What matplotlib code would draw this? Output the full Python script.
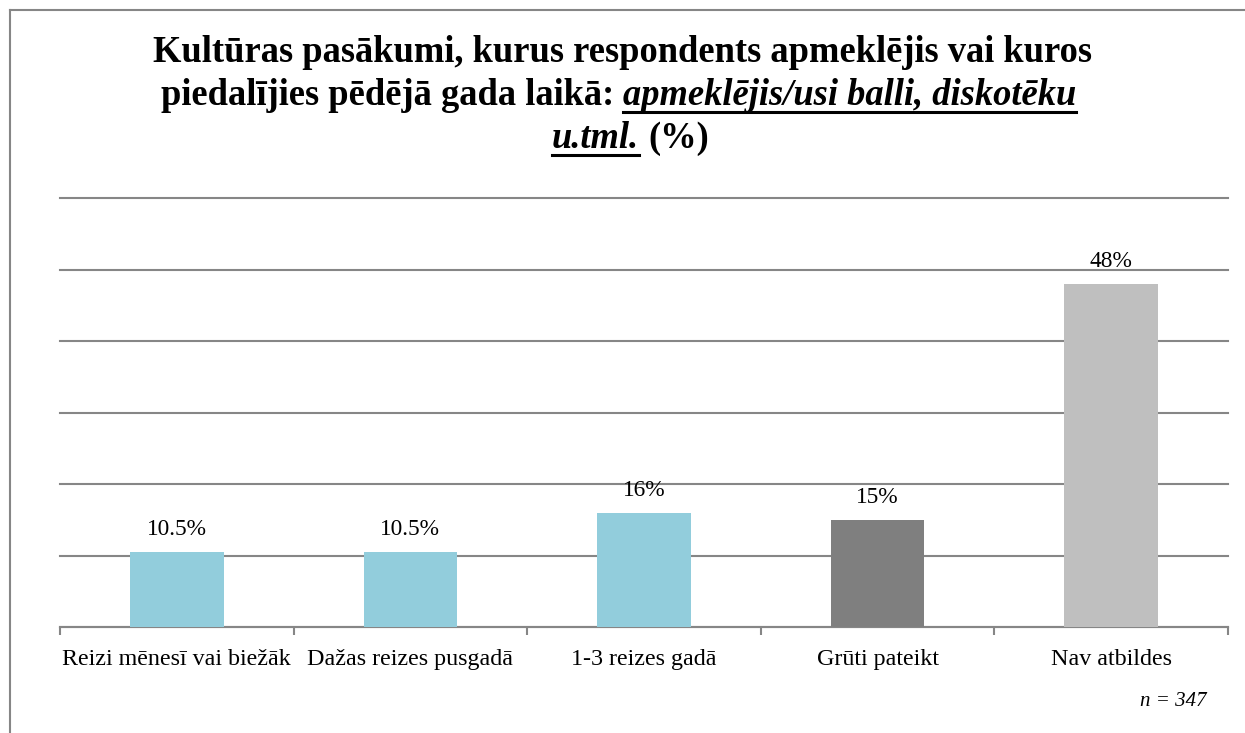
import matplotlib
matplotlib.use("Agg")
import matplotlib.pyplot as plt
from matplotlib.transforms import IdentityTransform
from matplotlib.lines import Line2D

categories = ["Reizi mēnesī vai biežāk", "Dažas reizes pusgadā", "1-3 reizes gadā",
              "Grūti pateikt", "Nav atbildes"]
values = [10.5, 10.5, 16, 15, 48]
value_labels = ["10.5%", "10.5%", "16%", "15%", "48%"]
colors = ["#92CDDC", "#92CDDC", "#92CDDC", "#7F7F7F", "#BFBFBF"]
note = "n = 347"

W, H = 1245, 733
fig = plt.figure(figsize=(W / 100, H / 100), dpi=100)
serif = ["Liberation Serif", "DejaVu Serif"]

ax = fig.add_axes([60 / W, 1 - 627 / H, (1228 - 60) / W, (627 - 198) / H])
x = list(range(len(categories)))
ax.bar(x, values, width=0.4, color=colors, zorder=3)
ax.set_xlim(-0.5, len(categories) - 0.5)
ax.set_ylim(0, 60)
ax.set_yticks([0, 10, 20, 30, 40, 50, 60])
ax.yaxis.grid(True, color="#868686", linewidth=1.5, zorder=0)
for gl in ax.yaxis.get_gridlines():
    gl.set_clip_on(False)
ax.tick_params(axis="y", length=0, labelleft=False)
for s in ["top", "right", "left"]:
    ax.spines[s].set_visible(False)
ax.spines["bottom"].set_color("#868686")
ax.spines["bottom"].set_linewidth(1.5)
ax.set_xticks([i - 0.5 for i in range(len(categories) + 1)], minor=False)
ax.set_xticklabels([])
ax.tick_params(axis="x", length=6, color="#868686", width=1.5, direction="out")
for i, c in enumerate(categories):
    ax.text(i, -3.1, c, ha="center", va="top", fontsize=17.3, family=serif)
for i, (v, lab) in enumerate(zip(values, value_labels)):
    ax.annotate(lab, (i, v), xytext=(0, 8.5), textcoords="offset points",
                ha="center", va="bottom", fontsize=16.8, family=serif)

fig.text(1207 / W, 1 - 701 / H, note, ha="right", va="center", fontsize=15,
         style="italic", family=serif)

# frame lines (left and top)
fig.add_artist(Line2D([9.5 / W, 9.5 / W], [0, 1 - 10 / H], transform=fig.transFigure,
                      color="#868686", linewidth=1.5))
fig.add_artist(Line2D([9.5 / W, 1], [1 - 10 / H, 1 - 10 / H], transform=fig.transFigure,
                      color="#868686", linewidth=1.5))

# title with mixed styles
renderer = fig.canvas.get_renderer()
TFS = 26.3
ident = IdentityTransform()


def width_of(s, italic):
    t = fig.text(0, 0, s, fontsize=TFS, weight="bold", family=serif,
                 style="italic" if italic else "normal", transform=ident)
    w = t.get_window_extent(renderer).width
    t.remove()
    return w


space_w = width_of("a a", False) - width_of("aa", False)
title_lines = [
    ([("Kultūras pasākumi, kurus respondents apmeklējis vai kuros", False)], 62, 0),
    ([("piedalījies pēdējā gada laikā:", False),
      ("apmeklējis/usi balli, diskotēku", True)], 105, -4),
    ([("u.tml.", True), ("(%)", False)], 148, 8),
]
for parts, base, dx in title_lines:
    widths = [width_of(s, it) for s, it in parts]
    total = sum(widths) + space_w * (len(parts) - 1)
    xp = W / 2 - total / 2 + dx
    yb = H - base
    for (s, it), w in zip(parts, widths):
        fig.text(xp, yb, s, fontsize=TFS, weight="bold", family=serif,
                 style="italic" if it else "normal", transform=ident,
                 ha="left", va="baseline")
        if it:
            fig.add_artist(Line2D([xp, xp + w], [yb - 7, yb - 7], transform=ident,
                                  color="black", linewidth=2.2))
        xp += w + space_w

fig.savefig("out.png", dpi=100)
